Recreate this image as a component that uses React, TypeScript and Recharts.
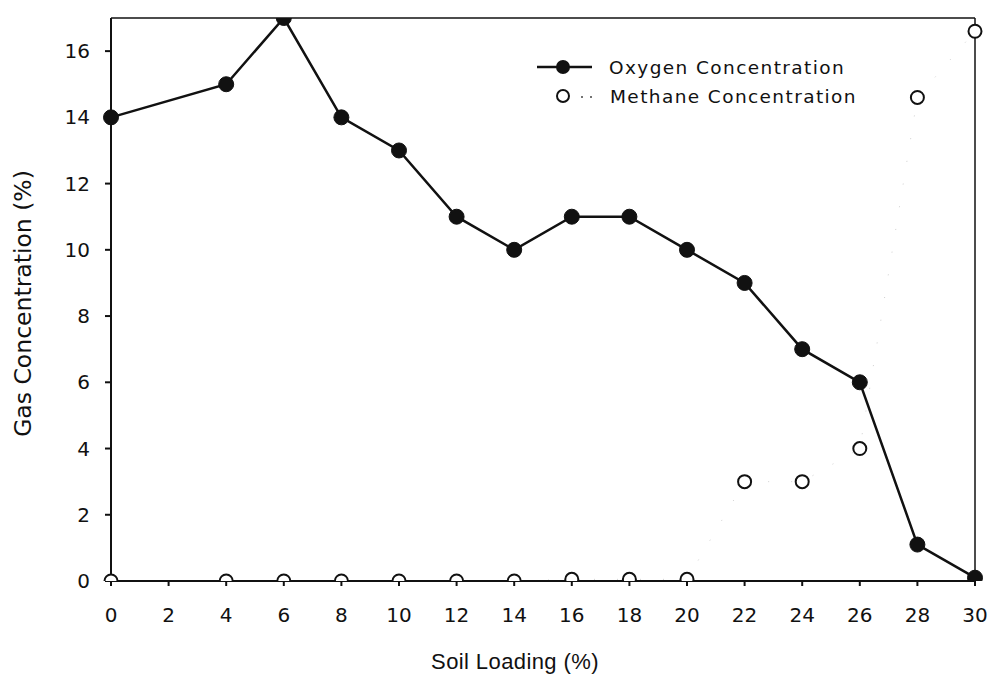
import React from "react";
import { Line, LineChart, XAxis, YAxis, ReferenceLine, Label } from "recharts";

const soilLoading = [0, 4, 6, 8, 10, 12, 14, 16, 18, 20, 22, 24, 26, 28, 30];
const oxygen = [14, 15, 17, 14, 13, 11, 10, 11, 11, 10, 9, 7, 6, 1.1, 0.1];
const methane = [0, 0, 0, 0, 0, 0, 0, 0.05, 0.05, 0.05, 3, 3, 4, 14.6, 16.6];

const xTicks = [0, 2, 4, 6, 8, 10, 12, 14, 16, 18, 20, 22, 24, 26, 28, 30];
const yTicks = [0, 2, 4, 6, 8, 10, 12, 14, 16];

const data = soilLoading.map((x, i) => ({ x, oxygen: oxygen[i], methane: methane[i] }));

const SANS = "'Liberation Sans', Arial, sans-serif";
const WIDE = "'DejaVu Sans', Verdana, sans-serif";
const INK = "#111";

// legend sits inside the plot, top right
function LegendBox() {
  const text = { fontFamily: WIDE, fontSize: 18.5, letterSpacing: 1.4, fill: INK };
  return (
    <svg
      width={360}
      height={60}
      style={{ position: "absolute", left: 530, top: 52, pointerEvents: "none" }}
    >
      <line x1={7} y1={15} x2={62} y2={15} stroke={INK} strokeWidth={2.5} />
      <circle cx={33} cy={15} r={7} fill={INK} />
      <text x={79} y={15} dy="0.36em" style={text}>Oxygen Concentration</text>
      <circle cx={33} cy={44} r={6} fill="#fff" stroke={INK} strokeWidth={2} />
      <circle cx={52} cy={45} r={1} fill="#444" />
      <circle cx={61} cy={45} r={1} fill="#444" />
      <text x={80} y={44} dy="0.36em" style={text}>Methane Concentration</text>
    </svg>
  );
}

export default function App() {
  return (
    <div style={{ position: "absolute", left: 0, top: 0, width: 991, height: 675, background: "#fff" }}>
      <LineChart
        width={991}
        height={675}
        data={data}
        margin={{ top: 18, right: 16, left: 30, bottom: 0 }}
      >
        <XAxis
          dataKey="x"
          type="number"
          domain={[0, 30]}
          ticks={xTicks}
          interval={0}
          tickSize={5}
          tickMargin={22}
          height={94}
          stroke={INK}
          strokeWidth={2}
          tick={{ fill: INK, fontSize: 20, fontFamily: WIDE }}
        >
          <Label
            value="Soil Loading (%)"
            position="insideBottom"
            offset={6}
            dx={-28}
            style={{ fill: INK, fontSize: 22, fontFamily: SANS, letterSpacing: 0.4 }}
          />
        </XAxis>
        <YAxis
          type="number"
          domain={[0, 17]}
          ticks={yTicks}
          interval={0}
          allowDataOverflow
          tickSize={6}
          tickMargin={15}
          width={81}
          stroke={INK}
          strokeWidth={2}
          tick={{ fill: INK, fontSize: 20, fontFamily: WIDE }}
        >
          <Label
            value="Gas Concentration (%)"
            angle={-90}
            position="insideLeft"
            offset={-7}
            dy={4}
            style={{ fill: INK, fontSize: 23.5, fontFamily: WIDE, textAnchor: "middle" }}
          />
        </YAxis>
        <ReferenceLine y={17} stroke={INK} strokeWidth={1.5} />
        <ReferenceLine x={30} stroke={INK} strokeWidth={1.5} />
        <Line
          dataKey="methane"
          stroke="#d0d0d0"
          strokeWidth={1}
          strokeDasharray="1 22"
          dot={{ r: 6.5, fill: "#fff", stroke: INK, strokeWidth: 2, strokeDasharray: "" }}
          isAnimationActive={false}
        />
        <Line
          dataKey="oxygen"
          stroke={INK}
          strokeWidth={2.5}
          dot={{ r: 7.5, fill: INK, stroke: INK, strokeWidth: 1 }}
          isAnimationActive={false}
        />
      </LineChart>
      <LegendBox />
    </div>
  );
}
